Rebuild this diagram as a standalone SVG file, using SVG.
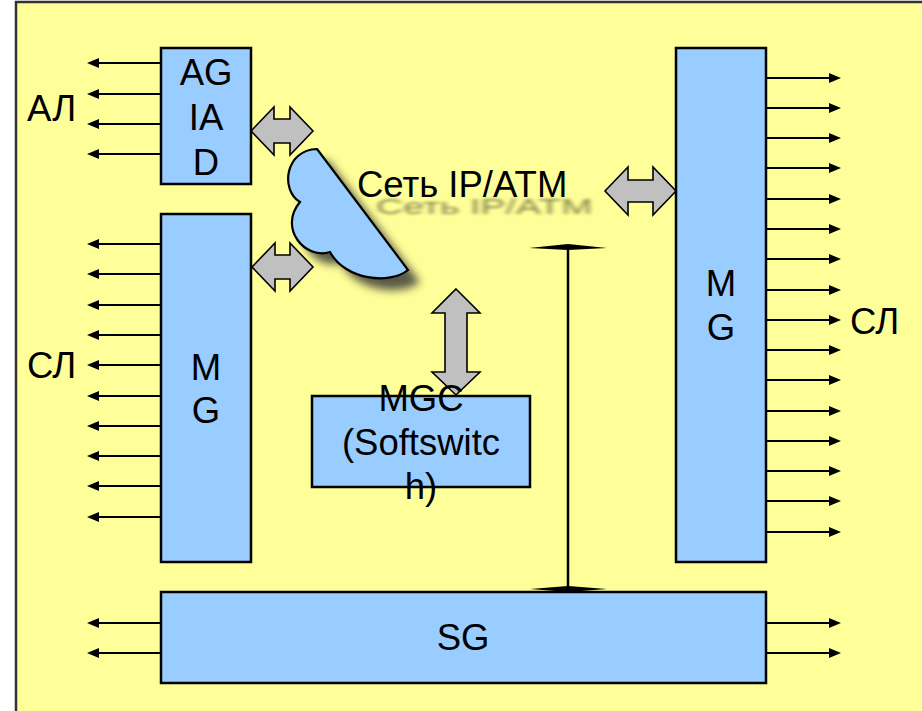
<svg xmlns="http://www.w3.org/2000/svg" width="922" height="711" viewBox="0 0 922 711">
<defs>
<style>
.box{fill:#99CCFF;stroke:#000;stroke-width:2.5}
.t{font-family:"Liberation Sans",Arial,sans-serif;font-size:36.5px;fill:#000}
.c{text-anchor:middle}
.ln{stroke:#000;stroke-width:2.2;fill:none;marker-end:url(#ah)}
.dbl{fill:#C0C0C0;stroke:#000;stroke-width:1.6;stroke-linejoin:miter}
</style>
<marker id="ah" markerWidth="12" markerHeight="10" refX="2" refY="5" orient="auto" markerUnits="userSpaceOnUse">
<path d="M0,0 L12,5 L0,10 Z" fill="#000"/>
</marker>
<filter id="blur" x="-20%" y="-20%" width="140%" height="140%"><feGaussianBlur stdDeviation="4"/></filter>
<filter id="tblur" x="-10%" y="-50%" width="120%" height="200%"><feGaussianBlur stdDeviation="2.8"/></filter>
</defs>
<rect x="0" y="0" width="922" height="711" fill="#fff"/>
<rect x="16" y="2" width="920" height="730" fill="#FFFF99" stroke="#333" stroke-width="2.5"/>

<g id="cloud">
<path d="M328,160 L420,282 C402,297 356,292 341,263 C316,271 289,239 311,213 C291,201 296,161 328,160 Z" fill="#333" opacity="0.8" filter="url(#blur)"/>
<path d="M317,149 L408,270 C390,285 345,280 330,252 C305,260 278,228 300,202 C280,190 285,150 317,149 Z" fill="#99CCFF" stroke="#000" stroke-width="2.2"/>
<text class="t" transform="translate(376,214) scale(1.03,0.6)" fill="#666" opacity="0.5" filter="url(#tblur)">Сеть IP/ATM</text>
<text class="t" x="357" y="197">Сеть IP/ATM</text>
</g>

<g id="connectors">
<g id="agiad-lines">
<line class="ln" x1="161" y1="63" x2="97" y2="63"/>
<line class="ln" x1="161" y1="94" x2="97" y2="94"/>
<line class="ln" x1="161" y1="124" x2="97" y2="124"/>
<line class="ln" x1="161" y1="154" x2="97" y2="154"/>
</g>
<g id="mg-left-lines">
<line class="ln" x1="161" y1="244" x2="97" y2="244"/>
<line class="ln" x1="161" y1="274" x2="97" y2="274"/>
<line class="ln" x1="161" y1="305" x2="97" y2="305"/>
<line class="ln" x1="161" y1="335" x2="97" y2="335"/>
<line class="ln" x1="161" y1="365" x2="97" y2="365"/>
<line class="ln" x1="161" y1="396" x2="97" y2="396"/>
<line class="ln" x1="161" y1="426" x2="97" y2="426"/>
<line class="ln" x1="161" y1="456" x2="97" y2="456"/>
<line class="ln" x1="161" y1="486" x2="97" y2="486"/>
<line class="ln" x1="161" y1="517" x2="97" y2="517"/>
</g>
<g id="mg-right-lines">
<line class="ln" x1="766" y1="78" x2="831" y2="78"/>
<line class="ln" x1="766" y1="108" x2="831" y2="108"/>
<line class="ln" x1="766" y1="138" x2="831" y2="138"/>
<line class="ln" x1="766" y1="168" x2="831" y2="168"/>
<line class="ln" x1="766" y1="199" x2="831" y2="199"/>
<line class="ln" x1="766" y1="229" x2="831" y2="229"/>
<line class="ln" x1="766" y1="259" x2="831" y2="259"/>
<line class="ln" x1="766" y1="290" x2="831" y2="290"/>
<line class="ln" x1="766" y1="320" x2="831" y2="320"/>
<line class="ln" x1="766" y1="350" x2="831" y2="350"/>
<line class="ln" x1="766" y1="380" x2="831" y2="380"/>
<line class="ln" x1="766" y1="411" x2="831" y2="411"/>
<line class="ln" x1="766" y1="441" x2="831" y2="441"/>
<line class="ln" x1="766" y1="471" x2="831" y2="471"/>
<line class="ln" x1="766" y1="501" x2="831" y2="501"/>
<line class="ln" x1="766" y1="532" x2="831" y2="532"/>
</g>
<g id="sg-lines">
<line class="ln" x1="161" y1="623" x2="97" y2="623"/>
<line class="ln" x1="161" y1="653" x2="97" y2="653"/>
<line class="ln" x1="766" y1="623" x2="831" y2="623"/>
<line class="ln" x1="766" y1="653" x2="831" y2="653"/>
</g>
<g id="sg-link">
<line x1="568" y1="247" x2="568" y2="589" stroke="#000" stroke-width="2.5"/>
<polygon points="529,248 568,244 607,248 568,250" fill="#000"/>
<polygon points="530,589 568,586 607,589 568,592" fill="#000"/>
</g>
<polygon class="dbl" points="251,131 274,107 274,119 290,119 290,107 313,131 290,155 290,143 274,143 274,155"/>
<polygon class="dbl" points="252,267 275,243 275,255 290,255 290,243 313,267 290,291 290,279 275,279 275,291"/>
<polygon class="dbl" points="605,191 628,167 628,180 653,180 653,167 676,191 653,215 653,202 628,202 628,215"/>
<polygon class="dbl" points="456,289 480,313 467,313 467,372 480,372 456,395 432,372 445,372 445,313 432,313"/>
</g>

<g id="agiad">
<rect class="box" x="161" y="48" width="90" height="136"/>
<text class="t c" x="206" y="85">AG</text>
<text class="t c" x="206" y="130">IA</text>
<text class="t c" x="206" y="175">D</text>
</g>
<text id="label-al" class="t" x="27" y="121">АЛ</text>

<g id="mg-left">
<rect class="box" x="161" y="214" width="90" height="348"/>
<text class="t c" x="206" y="380">M</text>
<text class="t c" x="206" y="423">G</text>
</g>
<text id="label-sl-left" class="t" x="27" y="378">СЛ</text>

<g id="mg-right">
<rect class="box" x="676" y="48" width="90" height="514"/>
<text class="t c" x="721" y="296">M</text>
<text class="t c" x="721" y="340">G</text>
</g>
<text id="label-sl-right" class="t" x="850" y="334">СЛ</text>

<g id="mgc">
<rect class="box" x="312" y="396" width="218" height="91"/>
<text class="t c" x="421" y="411">MGC</text>
<text class="t c" x="421" y="455">(Softswitc</text>
<text class="t c" x="421" y="499">h)</text>
</g>

<g id="sg">
<rect class="box" x="161" y="592" width="605" height="91"/>
<text class="t c" x="463" y="650">SG</text>
</g>
</svg>
